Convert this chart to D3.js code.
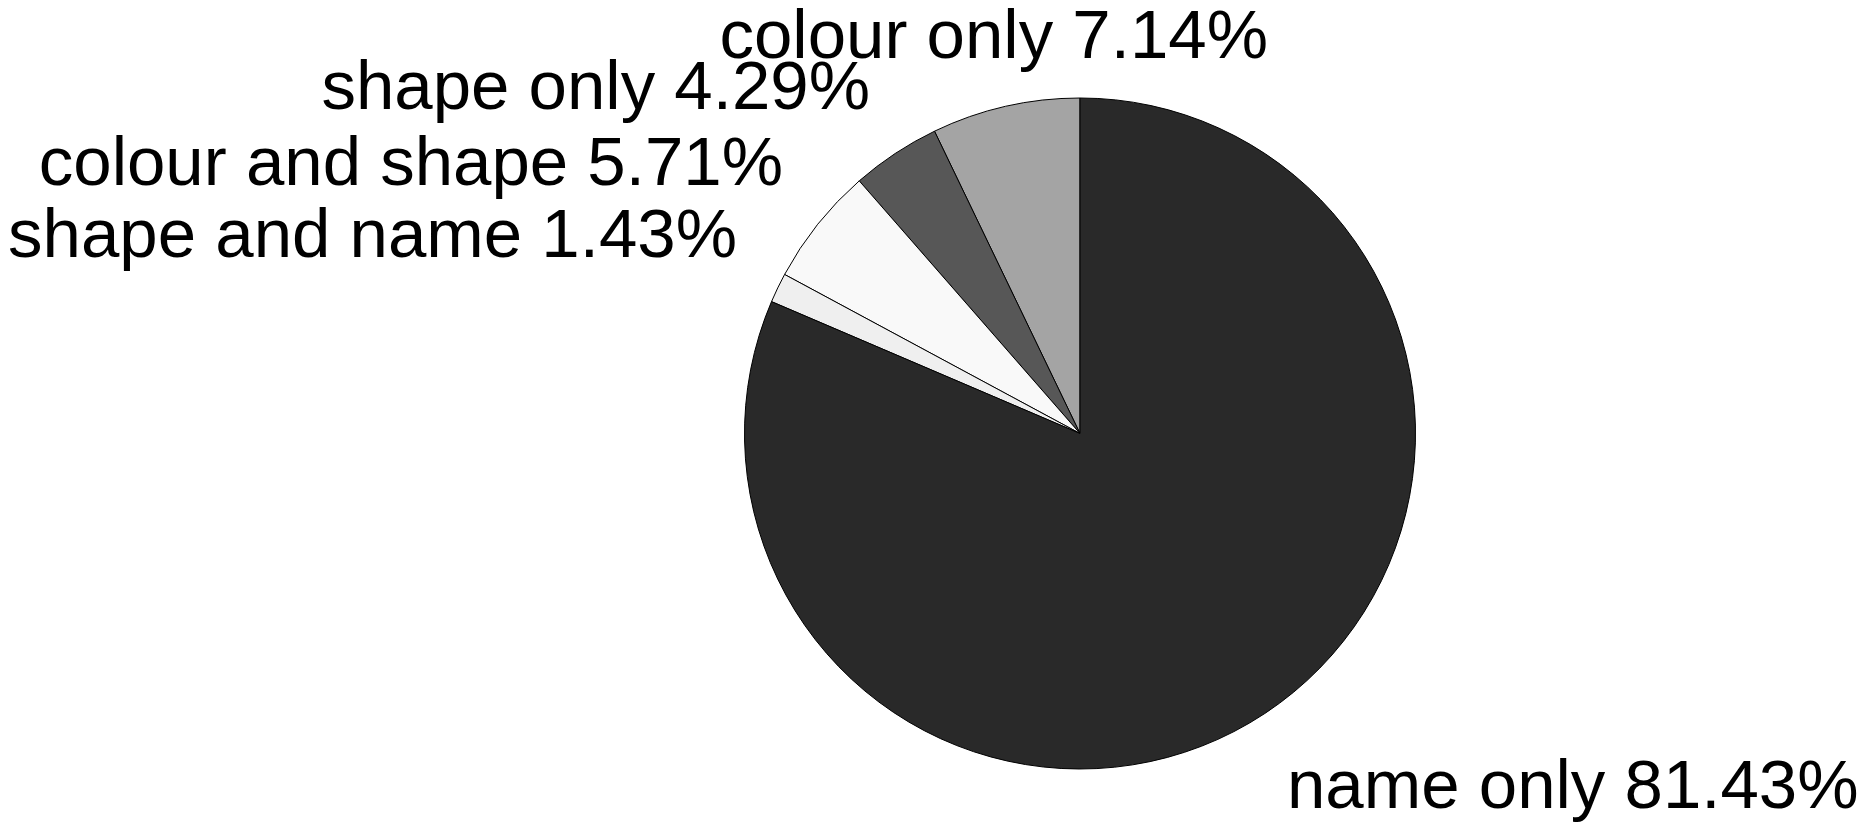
<!DOCTYPE html>
<html>
<head>
	<meta charset="utf-8">
	<title></title>
	<style type="text/css">
		body {
			margin: 0;
			background-color: #fff;
		}
		.label {
			font-family: 'Liberation Sans', Arial, sans-serif;
			font-size: 69px;
			fill: #000;
		}
		.slice {
			stroke: #000;
			stroke-width: 1px;
		}
	</style>
	<script type="text/javascript" src="https://cdn.jsdelivr.net/npm/d3@7/dist/d3.min.js"></script>
</head>
<body>
	<div id='chart'></div>
	<script type="text/javascript">
		// data, counter-clockwise from 12 o'clock
		var categories = ['colour only', 'shape only', 'colour and shape', 'shape and name', 'name only'];
		var percents = [7.14, 4.29, 5.71, 1.43, 81.43];
		var sliceColours = ['#a4a4a4', '#575757', '#f9f9f9', '#efefef', '#292929'];

		var width = 1870, height = 822;
		var cx = 1080, cy = 433.5, radius = 335.5;

		// where each label sits, relative to the pie centre
		var labelOffsets = [
			{dx: 188, dy: -375.5, anchor: 'end'},
			{dx: -210, dy: -324.5, anchor: 'end'},
			{dx: -297, dy: -248.5, anchor: 'end'},
			{dx: -343, dy: -176.5, anchor: 'end'},
			{dx: 207, dy: 374.5, anchor: 'start'}
		];

		var svg = d3.select('#chart')
			.append('svg')
			.attr('width', width)
			.attr('height', height);

		var rows = categories.map(function(c, i){
			return {name: c, value: percents[i], colour: sliceColours[i], i: i};
		});

		var pie = d3.pie()
			.sort(null)
			.value(function(d){ return d.value; })
			.startAngle(0)
			.endAngle(-2 * Math.PI);

		var arc = d3.arc()
			.innerRadius(0)
			.outerRadius(radius);

		var g = svg.append('g')
			.attr('transform', 'translate(' + cx + ',' + cy + ')');

		g.selectAll('.slice')
			.data(pie(rows))
			.enter()
			.append('path')
			.attr('class', 'slice')
			.attr('d', arc)
			.attr('fill', function(d){ return d.data.colour; });

		g.selectAll('.label')
			.data(rows)
			.enter()
			.append('text')
			.attr('class', 'label')
			.attr('x', function(d){ return labelOffsets[d.i].dx; })
			.attr('y', function(d){ return labelOffsets[d.i].dy; })
			.attr('text-anchor', function(d){ return labelOffsets[d.i].anchor; })
			.text(function(d){ return d.name + ' ' + d3.format('.2f')(d.value) + '%'; });
	</script>
</body>
</html>
